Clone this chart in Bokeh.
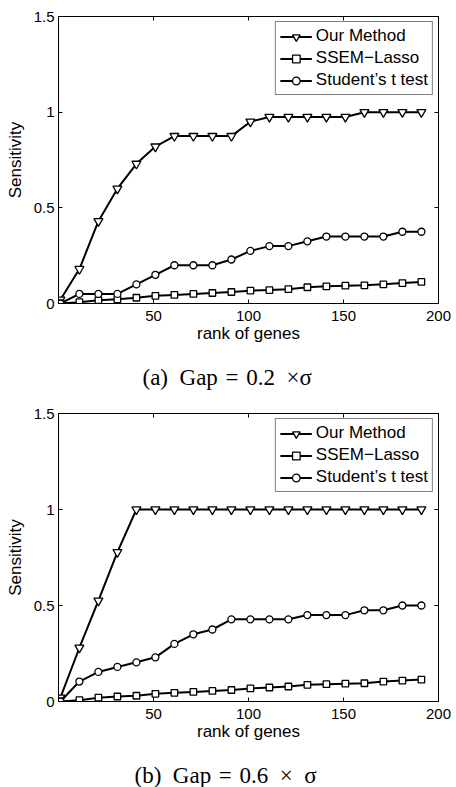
from bokeh.plotting import figure
from bokeh.layouts import column
from bokeh.models import (Range1d, FixedTicker, LinearAxis, Legend, Title,
                          CustomLabelingPolicy)
from bokeh.embed import file_html
from bokeh.resources import INLINE

rank = [1, 11, 21, 31, 41, 51, 61, 71, 81, 91, 101, 111, 121, 131, 141, 151, 161, 171, 181, 191]

# Panel (a): Gap = 0.2 x sigma
our_a = [0.02, 0.18, 0.43, 0.60, 0.73, 0.82, 0.875, 0.875, 0.875, 0.875,
         0.95, 0.975, 0.975, 0.975, 0.975, 0.975, 1.0, 1.0, 1.0, 1.0]
ssem_a = [0.0, 0.007, 0.017, 0.022, 0.03, 0.04, 0.045, 0.05, 0.055, 0.06,
          0.067, 0.07, 0.075, 0.085, 0.09, 0.093, 0.095, 0.10, 0.107, 0.113]
ttest_a = [0.0, 0.05, 0.05, 0.05, 0.10, 0.15, 0.20, 0.20, 0.20, 0.23,
           0.275, 0.30, 0.30, 0.325, 0.35, 0.35, 0.35, 0.35, 0.375, 0.375]

# Panel (b): Gap = 0.6 x sigma
our_b = [0.02, 0.28, 0.525, 0.778, 1.0, 1.0, 1.0, 1.0, 1.0, 1.0,
         1.0, 1.0, 1.0, 1.0, 1.0, 1.0, 1.0, 1.0, 1.0, 1.0]
ssem_b = [0.0, 0.007, 0.02, 0.026, 0.03, 0.04, 0.045, 0.05, 0.055, 0.06,
          0.068, 0.073, 0.078, 0.087, 0.09, 0.093, 0.095, 0.104, 0.109, 0.114]
ttest_b = [0.0, 0.104, 0.154, 0.18, 0.204, 0.23, 0.30, 0.35, 0.375, 0.428,
           0.428, 0.428, 0.428, 0.45, 0.45, 0.45, 0.475, 0.475, 0.5, 0.5]

x_ticks = [50, 100, 150, 200]
y_ticks = [0, 0.5, 1, 1.5]
series_names = ["Our Method", "SSEM\u2212Lasso", "Student\u2019s t test"]
captions = ["(a)\u2002Gap\u2004=\u20040.2\u2002\u00d7\u03c3",
            "(b)\u2002Gap\u2004=\u20040.6\u2002\u00d7\u2002\u03c3"]

SANS = "Liberation Sans"
SERIF = "Liberation Serif"

HIDE_ALL = CustomLabelingPolicy(code="for (const i of indices) { indices.unset(i) }\nreturn indices")


def make_panel(our, ssem, ttest, caption, height, top, bottom, cap_offset):
    p = figure(width=456, height=height, output_backend="svg", toolbar_location=None,
               x_range=Range1d(0, 200), y_range=Range1d(0, 1.5),
               min_border_left=58, min_border_right=14, min_border_top=top,
               min_border_bottom=bottom)
    p.background_fill_color = "white"
    p.border_fill_color = "white"
    p.outline_line_color = "black"
    p.outline_line_width = 1
    p.grid.visible = False

    for ax in (p.xaxis[0], p.yaxis[0]):
        ax.axis_line_color = "black"
        ax.major_tick_in = 4
        ax.major_tick_out = 0
        ax.minor_tick_line_color = None
        ax.major_label_text_font = SANS
        ax.major_label_text_font_size = "15px"
        ax.major_label_text_color = "black"
        ax.axis_label_text_font = SANS
        ax.axis_label_text_font_size = "17px"
        ax.axis_label_text_font_style = "normal"
        ax.axis_label_text_color = "black"
    p.xaxis.ticker = FixedTicker(ticks=x_ticks)
    p.yaxis.ticker = FixedTicker(ticks=y_ticks)
    p.yaxis.major_label_overrides = {0: "0", 1: "1"}
    p.xaxis.axis_label = "rank of genes"
    p.yaxis.axis_label = "Sensitivity"
    p.xaxis.major_label_standoff = 7
    p.xaxis.axis_label_standoff = 0
    p.yaxis.major_label_standoff = 4
    p.yaxis.axis_label_standoff = 6

    # mirror ticks on top and right (no labels)
    top_ax = LinearAxis(ticker=FixedTicker(ticks=x_ticks), major_tick_in=4, major_tick_out=0,
                        minor_tick_line_color=None, major_label_policy=HIDE_ALL,
                        major_label_standoff=0, axis_line_color="black")
    right_ax = LinearAxis(ticker=FixedTicker(ticks=y_ticks), major_tick_in=4, major_tick_out=0,
                          minor_tick_line_color=None, major_label_policy=HIDE_ALL,
                          major_label_standoff=0, axis_line_color="black")
    p.add_layout(top_ax, "above")
    p.add_layout(right_ax, "right")

    # invisible spacer (white ticks on white border) between axis label and caption
    spacer = LinearAxis(ticker=FixedTicker(ticks=x_ticks), major_tick_in=0, major_tick_out=6,
                        major_tick_line_color="white", major_tick_line_alpha=1.0,
                        minor_tick_line_color=None, minor_tick_out=0, minor_tick_in=0,
                        axis_line_color=None, major_label_policy=HIDE_ALL,
                        major_label_standoff=0)
    p.add_layout(spacer, "below")

    items = []
    specs = [(our, "inverted_triangle", 9), (ssem, "square", 6.5), (ttest, "circle", 7)]
    for (vals, marker, size), name in zip(specs, series_names):
        l = p.line(rank, vals, line_color="black", line_width=2)
        s = p.scatter(rank, vals, marker=marker, size=size, line_color="black",
                      line_width=1.3, fill_color="white")
        items.append((name, [l, s]))

    legend = Legend(items=items, location="top_right")
    legend.label_text_font = SANS
    legend.label_text_font_size = "17px"
    legend.label_text_color = "black"
    legend.border_line_color = "black"
    legend.border_line_width = 1
    legend.background_fill_color = "white"
    legend.background_fill_alpha = 1
    legend.glyph_width = 32
    legend.glyph_height = 19
    legend.label_height = 19
    legend.label_standoff = 4
    legend.spacing = 2
    legend.padding = 4
    legend.margin = 5
    p.add_layout(legend, "center")

    t = Title(text=caption, align="left", offset=cap_offset, text_font=SERIF,
              text_font_size="23px", text_font_style="normal", text_color="black",
              standoff=0)
    p.add_layout(t, "below")
    return p


p1 = make_panel(our_a, ssem_a, ttest_a, captions[0], 393, 16, 90, 84)
p2 = make_panel(our_b, ssem_b, ttest_b, captions[1], 394, 20, 86, 76)

layout = column(p1, p2, spacing=0)
open("out.html", "w").write(file_html(layout, INLINE))
